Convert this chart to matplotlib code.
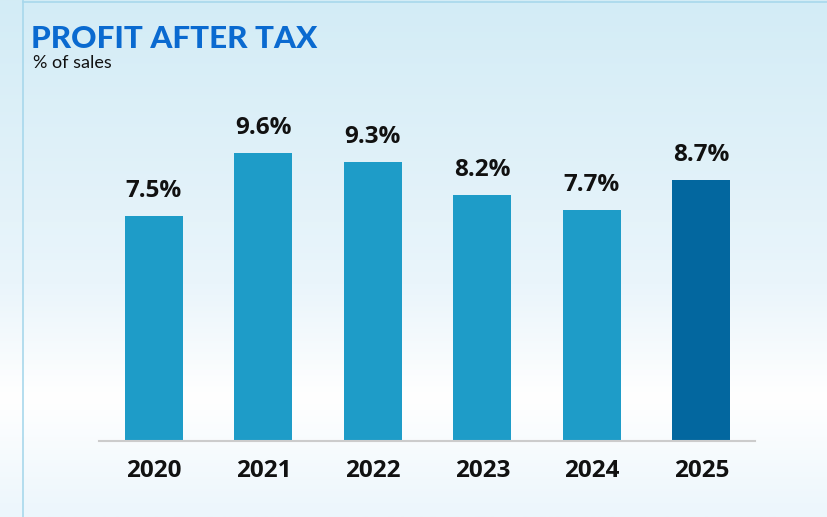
import numpy as np
import matplotlib
matplotlib.use("Agg")
import matplotlib.pyplot as plt
from matplotlib.colors import LinearSegmentedColormap

years = ["2020", "2021", "2022", "2023", "2024", "2025"]
values = [7.5, 9.6, 9.3, 8.2, 7.7, 8.7]
labels = ["7.5%", "9.6%", "9.3%", "8.2%", "7.7%", "8.7%"]
bar_colors = ["#1e9cc8"] * 5 + ["#03679f"]

W, H = 828, 517
fig = plt.figure(figsize=(W / 100, H / 100), dpi=100)

# background gradient
bg = fig.add_axes([0, 0, 1, 1], zorder=0)
cmap = LinearSegmentedColormap.from_list(
    "bg", [(0.0, "#d3ecf6"), (0.55, "#eaf5fb"), (0.77, "#ffffff"), (1.0, "#ecf6fc")])
grad = np.linspace(0, 1, 256).reshape(-1, 1)
bg.imshow(grad, aspect="auto", cmap=cmap, extent=[0, 1, 1, 0])
bg.set_xlim(0, 1); bg.set_ylim(1, 0)
bg.axis("off")
# frame lines
bg.plot([23 / W, 23 / W], [0, 1], color="#a8d8ec", lw=1.2)
bg.plot([23 / W, 1], [1.5 / H, 1.5 / H], color="#a8d8ec", lw=1.2)

# chart axes
left, right = 99 / W, 755 / W
bottom = (H - 441) / H
top = (H - 100) / H
ax = fig.add_axes([left, bottom, right - left, top - bottom], zorder=1)
ax.patch.set_alpha(0)
x = np.arange(len(years))
ax.bar(x, values, width=0.53, color=bar_colors, zorder=2)
ax.set_xlim(-0.502, 5.49)
ax.set_ylim(0, 341 / 30)
for xi, v, lab in zip(x, values, labels):
    ax.text(xi, v + 0.63, lab, ha="center", va="baseline", fontsize=17.5,
            fontweight="bold", family="Open Sans", color="#111111")
ax.set_xticks(x)
ax.set_xticklabels(years, fontsize=17.5, fontweight="bold", family="Open Sans", color="#111111")
ax.tick_params(axis="x", length=0, pad=13)
ax.set_yticks([])
for s in ["top", "right", "left"]:
    ax.spines[s].set_visible(False)
ax.spines["bottom"].set_color("#cccccc")
ax.spines["bottom"].set_linewidth(1.5)

fig.text(31 / W, 1 - 48 / H, "PROFIT AFTER TAX", fontsize=22.6, fontweight=900,
         family="Lato", color="#0a6ad0", ha="left", va="baseline")
fig.text(33 / W, 1 - 68 / H, "% of sales", fontsize=13, family="Lato",
         color="#111111", ha="left", va="baseline")

fig.savefig("out.png", dpi=100)
